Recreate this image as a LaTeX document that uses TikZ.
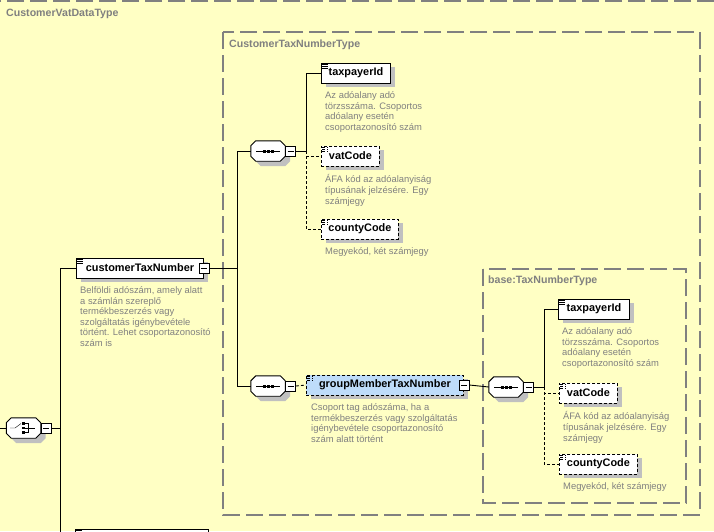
\documentclass[tikz,border=0pt]{standalone}
\usepackage{fontspec}
\setmainfont{Liberation Sans}
\usetikzlibrary{positioning,shadows}
\definecolor{bgyellow}{RGB}{255,255,196}
\definecolor{boxgray}{RGB}{128,128,128}
\definecolor{docgray}{RGB}{128,128,128}
\definecolor{shadowgray}{RGB}{192,192,192}
\definecolor{grpblue}{RGB}{190,220,250}
\tikzset{
  container/.style={draw=boxgray, line width=1.3pt, dash pattern=on 17pt off 6pt},
  typetitle/.style={anchor=west, inner sep=0pt, text=boxgray, font=\fontsize{10.6}{12}\selectfont\bfseries},
  boxshadow/.style={drop shadow={shadow xshift=5pt, shadow yshift=-4pt, fill=shadowgray, opacity=1}},
  elem/.style={draw, fill=white, anchor=west, minimum height=20pt, inner xsep=7pt, inner ysep=0pt,
    line width=0.9pt, boxshadow, font=\fontsize{10.9}{12}\selectfont\bfseries,
    path picture={
      \foreach \dy in {1.6,3.3,5.0}
        \draw[line width=0.7pt] ([shift={(1pt,-\dy pt)}]path picture bounding box.north west) -- ++(6pt,0pt);}},
  optional/.style={dash pattern=on 3pt off 2pt},
  doc/.style={inner sep=0pt, align=left, text=docgray, font=\fontsize{9.4}{10.6}\selectfont},
  minusbox/.style={draw, fill=white, minimum size=10pt, inner sep=0pt, line width=0.8pt,
    path picture={\draw ([xshift=2pt]path picture bounding box.west) -- ([xshift=-2pt]path picture bounding box.east);}},
  comp/.style={minimum width=34pt, minimum height=20pt, inner sep=0pt},
  link/.style={line width=0.9pt},
}
% octagon of a compositor, drawn round a comp node
\newcommand\octagon[2]{%
  \path[#2] ([xshift=5pt]#1.north west) -- ([xshift=-5pt]#1.north east) -- ([yshift=-5pt]#1.north east)
    -- ([yshift=5pt]#1.south east) -- ([xshift=-5pt]#1.south east) -- ([xshift=5pt]#1.south west)
    -- ([yshift=5pt]#1.south west) -- ([yshift=-5pt]#1.north west) -- cycle;}
\newcommand\compbody[1]{%
  \octagon{#1}{fill=shadowgray, transform canvas={shift={(5pt,-5pt)}}}
  \octagon{#1}{draw, fill=white, line width=0.9pt}}
\newcommand\seqicon[1]{%
  \draw ([xshift=-12pt]#1.center) -- ([xshift=12pt]#1.center);
  \foreach \dx in {-4,0,4}
    \fill ([xshift=\dx pt]#1.center) +(-1.5pt,-1.5pt) rectangle +(1.5pt,1.5pt);}
\newcommand\choiceicon[1]{%
  \draw ([xshift=-13.5pt]#1.center) -- ([xshift=-8.5pt]#1.center) -- ([shift={(-2.5pt,4.5pt)}]#1.center);
  \foreach \dy in {-4.5,0,4.5}
    \fill ([yshift=\dy pt]#1.center) +(-1.4pt,-1.4pt) rectangle +(1.4pt,1.4pt);
  \draw ([yshift=4.5pt]#1.center) -- ++(5pt,0pt) -- ++(0pt,-9pt) -- ++(-5pt,0pt);
  \draw (#1.center) -- ++(11pt,0pt);}
\begin{document}
\begin{tikzpicture}[x=1pt,y=-1pt]
  \useasboundingbox (0,0) rectangle (714,531);
  \clip (0,0) rectangle (714,531);
  \fill[bgyellow] (0,0) rectangle (714,531);
  % type containers
  \draw[container] (-2,1) rectangle (740,560);
  \draw[container] (223,32) rectangle (700,515);
  \draw[container] (483,269) rectangle (686,503);
  \node[typetitle] (vattitle) at (6,14) {CustomerVatDataType};
  \node[typetitle] (ctntitle) at (229,45) {CustomerTaxNumberType};
  \node[typetitle] (basetitle) at (488,281) {base:TaxNumberType};

  % choice at the left
  \coordinate (start) at (0,428);
  \node[comp] (choice) at (23.5,428) {};
  \compbody{choice}
  \choiceicon{choice}
  \node[minusbox, right=0pt of choice] (choicem) {};
  \node[elem, minimum width=127pt] (ctn) at (76,268) {customerTaxNumber};
  \node[minusbox] (ctnm) at (ctn.east) {};
  \node[elem, minimum width=133pt] (nextelem) at (75,539) {};
  \node[doc, below right=8pt and 4pt of ctn.south west] (ctndoc)
    {Belföldi adószám, amely alatt\\a számlán szereplő\\termékbeszerzés vagy\\szolgáltatás igénybevétele\\történt. Lehet csoportazonosító\\szám is};

  % first sequence
  \node[comp] (seq1) at (268,151) {};
  \compbody{seq1}
  \seqicon{seq1}
  \node[minusbox, right=0pt of seq1] (seq1m) {};
  \node[elem, minimum width=69pt] (tp1) at (321,73) {taxpayerId};
  \node[elem, optional, minimum width=58pt] (vc1) at (321,156) {vatCode};
  \node[elem, optional, minimum width=77pt] (cc1) at (321,229) {countyCode};
  \node[doc, below right=8pt and 4pt of tp1.south west] (tp1doc)
    {Az adóalany adó\\törzsszáma. Csoportos\\adóalany esetén\\csoportazonosító szám};
  \node[doc, below right=8pt and 4pt of vc1.south west] (vc1doc)
    {ÁFA kód az adóalanyiság\\típusának jelzésére. Egy\\számjegy};
  \node[doc, below right=8pt and 4pt of cc1.south west] (cc1doc)
    {Megyekód, két számjegy};

  % second sequence
  \node[comp] (seq2) at (268,386) {};
  \compbody{seq2}
  \seqicon{seq2}
  \node[minusbox, right=0pt of seq2] (seq2m) {};
  \node[elem, optional, fill=grpblue, minimum width=157pt] (gmtn) at (306,385) {groupMemberTaxNumber};
  \node[minusbox] (gmtnm) at (gmtn.east) {};
  \node[doc, below right=8pt and 5pt of gmtn.south west] (gmtndoc)
    {Csoport tag adószáma, ha a\\termékbeszerzés vagy szolgáltatás\\igénybevétele csoportazonosító\\szám alatt történt};

  % base:TaxNumberType sequence
  \node[comp] (seq3) at (506,387) {};
  \compbody{seq3}
  \seqicon{seq3}
  \node[minusbox, right=0pt of seq3] (seq3m) {};
  \node[elem, minimum width=71pt] (tp2) at (558,309) {taxpayerId};
  \node[elem, optional, minimum width=58pt] (vc2) at (559,393) {vatCode};
  \node[elem, optional, minimum width=78pt] (cc2) at (559,464) {countyCode};
  \node[doc, below right=8pt and 4pt of tp2.south west] (tp2doc)
    {Az adóalany adó\\törzsszáma. Csoportos\\adóalany esetén\\csoportazonosító szám};
  \node[doc, below right=8pt and 4pt of vc2.south west] (vc2doc)
    {ÁFA kód az adóalanyiság\\típusának jelzésére. Egy\\számjegy};
  \node[doc, below right=8pt and 4pt of cc2.south west] (cc2doc)
    {Megyekód, két számjegy};

  % connectors
  \draw[link] (start) -- (choice.west);
  \draw[link] (choicem.east) -- ++(9,0) |- (ctn.west);
  \draw[link] (choicem.east) -- ++(9,0) |- (nextelem.west);
  \draw[link] (ctnm.east) -- ++(28,0) |- (seq1.west);
  \draw[link] (ctnm.east) -- ++(28,0) |- (seq2.west);
  \draw[link] (seq1m.east) -- ++(10,0) |- (tp1.west);
  \draw[link, optional] ([xshift=10pt]seq1m.east) |- (vc1.west);
  \draw[link, optional] ([xshift=10pt]seq1m.east) |- (cc1.west);
  \draw[link, optional] (seq2m.east) -- (gmtn.west);
  \draw[link] (gmtnm.east) -- (seq3.west);
  \draw[link] (seq3m.east) -- ++(10,0) |- (tp2.west);
  \draw[link, optional] ([xshift=10pt]seq3m.east) |- (vc2.west);
  \draw[link, optional] ([xshift=10pt]seq3m.east) |- (cc2.west);
\end{tikzpicture}
\end{document}
